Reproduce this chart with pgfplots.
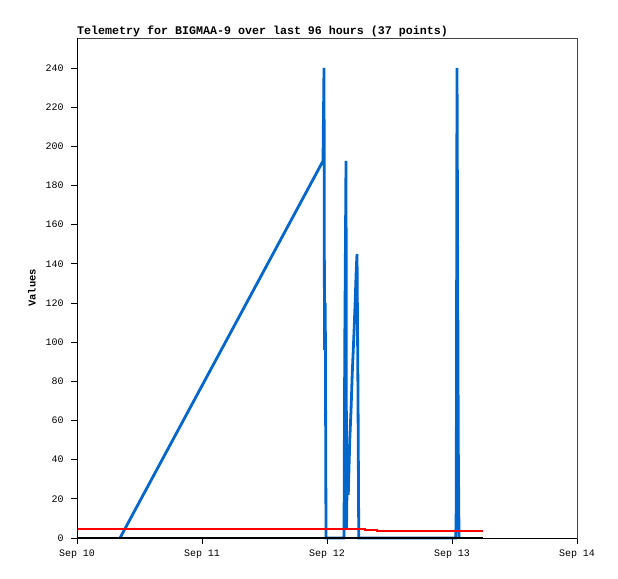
\documentclass[border=0pt]{standalone}
\usepackage{fontspec}
\setmainfont{Liberation Mono}
\usepackage{pgfplots}
\pgfplotsset{compat=1.18}
\definecolor{tblue}{HTML}{0066CC}
\definecolor{frame}{HTML}{444444}
\begin{document}
\begin{tikzpicture}[x=1bp,y=1bp]
\useasboundingbox[fill=white] (0,0) rectangle (618,579);
\begin{axis}[
  at={(77bp,41bp)}, anchor=south west,
  scale only axis, width=500bp, height=500bp,
  xmin=0, xmax=4, ymin=0, ymax=255.3,
  xtick={0,1,2,3,4},
  xticklabels={Sep 10,Sep 11,Sep 12,Sep 13,Sep 14},
  ytick={0,20,...,240},
  tick align=outside,
  major tick length=6bp,
  xtick pos=bottom, ytick pos=left,
  tick style={black, line width=0.8bp},
  axis line style={frame, line width=0.8bp},
  tick label style={font=\fontsize{10}{12}\selectfont},
  /pgf/number format/assume math mode=true,
  xticklabel style={yshift=-2bp},
  yticklabel style={xshift=-4bp},
  ylabel={\bfseries Values},
  ylabel style={font=\fontsize{10.5}{12}\selectfont, at={(axis description cs:-0.09,0.5)}, anchor=center},
  title={\bfseries Telemetry for BIGMAA-9 over last 96 hours (37 points)},
  title style={font=\fontsize{11.7}{13}\selectfont, at={(rel axis cs:0,1)}, anchor=south west, yshift=-8.5bp, inner xsep=0pt},
  clip=false,
]
\addplot[tblue, line width=2.8bp, line join=miter] coordinates {
(0.344,0) (1.968,192.5) (1.976,240) (1.980,96) (1.986,120) (1.992,0)
(2.136,0) (2.142,96) (2.152,192.5) (2.156,5) (2.162,36) (2.170,22)
(2.182,50) (2.192,65) (2.202,84) (2.210,96) (2.218,108) (2.226,122)
(2.234,137) (2.240,145) (2.248,72) (2.254,0)
(3.030,0) (3.034,16) (3.040,240) (3.050,48) (3.056,0)
};
\addplot[red, line width=2bp] coordinates {
(0,4.6) (2.304,4.6) (2.304,4.2) (2.400,4.2) (2.400,3.8) (3.248,3.8)
};
\addplot[black, line width=2bp] coordinates {
(0,0) (3.248,0)
};
\draw[black, line width=0.8bp] (rel axis cs:0,1) -- (rel axis cs:0,0) -- (rel axis cs:1,0);
\end{axis}
\end{tikzpicture}
\end{document}
